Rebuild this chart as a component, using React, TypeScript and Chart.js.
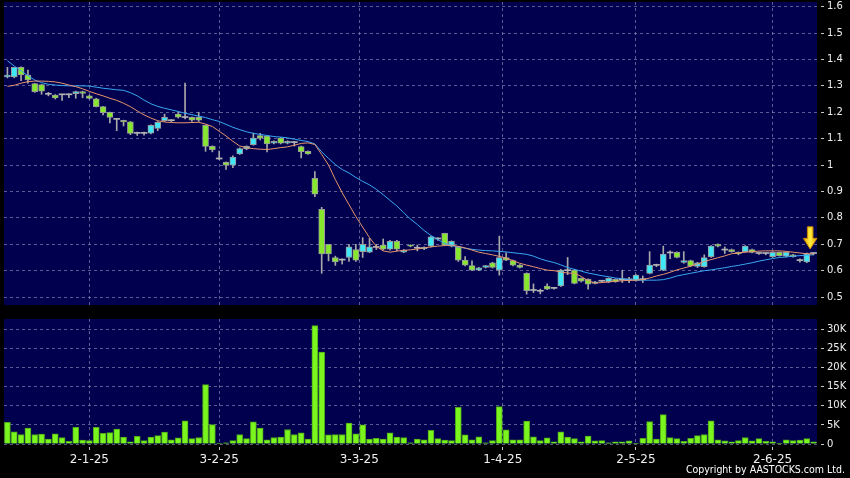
import React, { useEffect, useRef } from 'react';
import { Chart, registerables } from 'chart.js';

Chart.register(...registerables);

// ---- data (trading-day index 0..118) ----
const openP = [
  1.334, 1.334, 1.37, 1.341, 1.309, 1.305, 1.268, 1.265, 1.266, 1.266,
  1.27, 1.278, 1.262, 1.251, 1.221, 1.2, 1.173, 1.169, 1.164, 1.12,
  1.12, 1.121, 1.139, 1.168, 1.168, 1.193, 1.18, 1.181, 1.181, 1.15,
  1.071, 1.023, 1.01, 1.0, 1.042, 1.061, 1.077, 1.112, 1.11, 1.083,
  1.102, 1.083, 1.085, 1.07, 1.052, 0.95, 0.832, 0.7, 0.65, 0.64,
  0.65, 0.68, 0.672, 0.67, 0.688, 0.697, 0.681, 0.711, 0.67, 0.697,
  0.685, 0.683, 0.693, 0.72, 0.741, 0.693, 0.69, 0.64, 0.619, 0.602,
  0.612, 0.63, 0.602, 0.65, 0.638, 0.621, 0.59, 0.525, 0.522, 0.542,
  0.533, 0.542, 0.6, 0.602, 0.571, 0.567, 0.552, 0.56, 0.558, 0.567,
  0.565, 0.565, 0.563, 0.566, 0.59, 0.62, 0.602, 0.667, 0.669, 0.631,
  0.638, 0.616, 0.615, 0.653, 0.7, 0.678, 0.68, 0.669, 0.672, 0.68,
  0.665, 0.665, 0.653, 0.669, 0.655, 0.66, 0.638, 0.633, 0.665,
];
const highP = [
  1.37, 1.37, 1.372, 1.36, 1.31, 1.306, 1.275, 1.267, 1.268, 1.27,
  1.28, 1.28, 1.265, 1.253, 1.222, 1.201, 1.175, 1.17, 1.165, 1.125,
  1.125, 1.152, 1.165, 1.193, 1.172, 1.2, 1.31, 1.183, 1.2, 1.152,
  1.073, 1.053, 1.012, 1.035, 1.065, 1.073, 1.121, 1.12, 1.112, 1.092,
  1.104, 1.092, 1.09, 1.072, 1.054, 0.975, 0.84, 0.7, 0.655, 0.645,
  0.7, 0.7, 0.725, 0.722, 0.7, 0.72, 0.715, 0.715, 0.68, 0.698,
  0.697, 0.69, 0.73, 0.725, 0.742, 0.713, 0.692, 0.653, 0.637, 0.613,
  0.62, 0.632, 0.731, 0.668, 0.64, 0.623, 0.592, 0.55, 0.53, 0.55,
  0.535, 0.605, 0.65, 0.605, 0.573, 0.569, 0.56, 0.563, 0.573, 0.569,
  0.602, 0.575, 0.585, 0.58, 0.672, 0.625, 0.693, 0.675, 0.671, 0.672,
  0.64, 0.632, 0.66, 0.695, 0.702, 0.69, 0.682, 0.671, 0.695, 0.682,
  0.668, 0.667, 0.672, 0.671, 0.671, 0.662, 0.645, 0.667, 0.667,
];
const lowP = [
  1.33, 1.33, 1.32, 1.31, 1.275, 1.268, 1.262, 1.25, 1.245, 1.255,
  1.253, 1.255, 1.25, 1.22, 1.19, 1.16, 1.13, 1.148, 1.115, 1.112,
  1.113, 1.118, 1.13, 1.165, 1.163, 1.178, 1.175, 1.165, 1.165, 1.052,
  1.05, 1.02, 0.983, 0.99, 1.04, 1.058, 1.075, 1.095, 1.05, 1.08,
  1.08, 1.08, 1.072, 1.027, 1.04, 0.88, 0.59, 0.637, 0.62, 0.625,
  0.635, 0.635, 0.65, 0.668, 0.68, 0.678, 0.678, 0.675, 0.668, 0.69,
  0.675, 0.68, 0.69, 0.715, 0.695, 0.69, 0.635, 0.618, 0.6, 0.6,
  0.61, 0.61, 0.583, 0.638, 0.618, 0.61, 0.511, 0.517, 0.512, 0.528,
  0.53, 0.54, 0.585, 0.55, 0.557, 0.53, 0.55, 0.556, 0.555, 0.556,
  0.555, 0.555, 0.56, 0.555, 0.588, 0.615, 0.6, 0.645, 0.648, 0.628,
  0.615, 0.612, 0.613, 0.65, 0.69, 0.665, 0.67, 0.66, 0.67, 0.667,
  0.662, 0.66, 0.65, 0.655, 0.652, 0.651, 0.632, 0.63, 0.66,
];
const closeP = [
  1.341, 1.37, 1.341, 1.322, 1.278, 1.28, 1.268, 1.254, 1.266, 1.266,
  1.278, 1.271, 1.252, 1.221, 1.198, 1.18, 1.173, 1.163, 1.12, 1.12,
  1.12, 1.15, 1.162, 1.181, 1.168, 1.181, 1.18, 1.17, 1.17, 1.071,
  1.058, 1.023, 1.0, 1.03, 1.062, 1.071, 1.102, 1.102, 1.08, 1.09,
  1.083, 1.09, 1.085, 1.051, 1.042, 0.89, 0.663, 0.663, 0.633, 0.64,
  0.69, 0.64, 0.7, 0.69, 0.688, 0.681, 0.711, 0.681, 0.678, 0.693,
  0.685, 0.688, 0.728, 0.72, 0.697, 0.711, 0.64, 0.621, 0.602, 0.611,
  0.619, 0.612, 0.65, 0.64, 0.621, 0.612, 0.524, 0.525, 0.522, 0.53,
  0.533, 0.602, 0.6, 0.552, 0.56, 0.549, 0.558, 0.56, 0.571, 0.558,
  0.565, 0.565, 0.583, 0.566, 0.621, 0.62, 0.663, 0.667, 0.65, 0.638,
  0.618, 0.63, 0.65, 0.693, 0.693, 0.678, 0.672, 0.664, 0.693, 0.669,
  0.665, 0.665, 0.669, 0.657, 0.669, 0.653, 0.638, 0.665, 0.665,
];
const volume = [
  5700, 3200, 2500, 4200, 2500, 2600, 1300, 2700, 1700, 700,
  4400, 1000, 900, 4400, 2800, 3000, 3900, 1800, 600, 2000,
  900, 1800, 2200, 3100, 1100, 1600, 6100, 1400, 1700, 15600,
  5100, 200, 300, 900, 2500, 1400, 5800, 4200, 1100, 1700,
  1800, 3800, 2500, 2900, 1300, 31100, 24100, 2400, 2500, 2500,
  5500, 2700, 5000, 1300, 1500, 1300, 2900, 1800, 1700, 300,
  1300, 1100, 3600, 1400, 1000, 900, 9600, 2400, 1100, 1900,
  300, 900, 9800, 3700, 1100, 1100, 6000, 1900, 900, 1600,
  600, 3200, 1800, 1400, 600, 2100, 800, 900, 300, 600,
  600, 800, 100, 1500, 5900, 1300, 7700, 1700, 1400, 700,
  1500, 2200, 2500, 6100, 1100, 800, 600, 900, 1700, 800,
  1400, 700, 600, 100, 1100, 900, 1000, 1400, 600,
];
const ma10 = [
  1.298, 1.302, 1.31, 1.316, 1.318, 1.318, 1.317, 1.315, 1.31, 1.303,
  1.297, 1.289, 1.279, 1.27, 1.262, 1.253, 1.245, 1.234, 1.221, 1.205,
  1.19, 1.178, 1.168, 1.163, 1.161, 1.16, 1.16, 1.161, 1.162, 1.155,
  1.146, 1.128, 1.11, 1.09, 1.072, 1.066, 1.062, 1.06, 1.059, 1.062,
  1.066, 1.069, 1.075, 1.082, 1.084, 1.078, 1.04, 1.0, 0.945, 0.895,
  0.85, 0.805, 0.765, 0.725, 0.692, 0.675, 0.67, 0.674, 0.677, 0.679,
  0.682, 0.686, 0.69, 0.693, 0.695, 0.697, 0.692, 0.686, 0.678, 0.67,
  0.665, 0.66, 0.654, 0.648, 0.638, 0.628, 0.621, 0.615, 0.608, 0.602,
  0.6, 0.595, 0.591, 0.59, 0.578, 0.562, 0.553, 0.555, 0.557, 0.56,
  0.562, 0.563, 0.564, 0.566, 0.572, 0.58, 0.586, 0.594, 0.603, 0.61,
  0.617, 0.625, 0.635, 0.642, 0.649, 0.656, 0.664, 0.667, 0.67, 0.672,
  0.674, 0.675, 0.675, 0.675, 0.673, 0.67, 0.667, 0.664, 0.663,
];
const ma20 = [
  1.395, 1.375, 1.357, 1.338, 1.322, 1.312, 1.306, 1.303, 1.301, 1.3,
  1.3, 1.3, 1.299, 1.295, 1.291, 1.288, 1.285, 1.283, 1.274, 1.262,
  1.246, 1.232, 1.222, 1.215, 1.209, 1.203, 1.196, 1.191, 1.185, 1.18,
  1.172, 1.165, 1.154, 1.143, 1.134, 1.126, 1.12, 1.116, 1.112, 1.108,
  1.106, 1.103, 1.098, 1.093, 1.089, 1.08, 1.05, 1.025, 1.002, 0.983,
  0.97, 0.953, 0.938, 0.925, 0.908, 0.888, 0.866, 0.845, 0.82, 0.795,
  0.775, 0.752, 0.733, 0.718, 0.703, 0.695, 0.69, 0.685, 0.681, 0.678,
  0.676, 0.675, 0.673, 0.671, 0.668, 0.665, 0.662, 0.655, 0.645, 0.637,
  0.631, 0.622, 0.612, 0.605, 0.598, 0.591, 0.586, 0.581, 0.577, 0.572,
  0.57, 0.566, 0.564, 0.564, 0.564, 0.564, 0.566, 0.572, 0.58, 0.585,
  0.59, 0.595, 0.6, 0.603, 0.607, 0.611, 0.616, 0.62, 0.625, 0.63,
  0.636, 0.641, 0.646, 0.65, 0.652, 0.655, 0.657, 0.659, 0.66,
];
const priceTicks = [0.5, 0.6, 0.7, 0.8, 0.9, 1.0, 1.1, 1.2, 1.3, 1.4, 1.5, 1.6];
const volumeTicks = [0, 5000, 10000, 15000, 20000, 25000, 30000];
const dateTickIndex = [12, 31, 51.5, 72.5, 92, 112];
const dateTickLabels = ['2-1-25', '3-2-25', '3-3-25', '1-4-25', '2-5-25', '2-6-25'];
const arrowIndex = 117.5;
const arrowTop = 0.766;
const arrowTip = 0.682;

// ---- styles ----
const PANEL = '#00004f';
const GRID = 'rgba(150,150,195,0.6)';
const UP = '#3ee6f6';
const DOWN = '#86e82e';
const DOJI = '#b4b4b4';
const CANDLE_EDGE = '#9a9a9a';
const VOL = '#7af51e';
const VOL_EDGE = '#4fa818';
const TEXT = '#f0f0f0';

const n = closeP.length;

const bgPlugin = {
  id: 'panelBg',
  beforeDraw(chart: any) {
    const { ctx, chartArea: a } = chart;
    ctx.save();
    ctx.fillStyle = '#000000';
    ctx.fillRect(0, 0, chart.width, chart.height);
    ctx.fillStyle = PANEL;
    ctx.fillRect(a.left, a.top, a.right - a.left, a.bottom - a.top);
    ctx.restore();
  },
};

const arrowPlugin = {
  id: 'arrowMark',
  afterDatasetsDraw(chart: any) {
    const xs = chart.scales.x;
    const ys = chart.scales.y;
    const cx = xs.getPixelForValue(arrowIndex);
    const yt = ys.getPixelForValue(arrowTop);
    const yb = ys.getPixelForValue(arrowTip);
    const headH = (yb - yt) * 0.48;
    const ctx = chart.ctx;
    ctx.save();
    const g = ctx.createLinearGradient(cx - 7, 0, cx + 7, 0);
    g.addColorStop(0, '#e8a000');
    g.addColorStop(0.5, '#ffee40');
    g.addColorStop(1, '#e8a000');
    ctx.fillStyle = g;
    ctx.strokeStyle = '#c88a00';
    ctx.lineWidth = 1;
    ctx.beginPath();
    ctx.moveTo(cx - 2.8, yt);
    ctx.lineTo(cx + 2.8, yt);
    ctx.lineTo(cx + 2.8, yb - headH);
    ctx.lineTo(cx + 6.8, yb - headH);
    ctx.lineTo(cx, yb);
    ctx.lineTo(cx - 6.8, yb - headH);
    ctx.lineTo(cx - 2.8, yb - headH);
    ctx.closePath();
    ctx.fill();
    ctx.stroke();
    ctx.restore();
  },
};

const xScaleBase = (showLabels: boolean, height: number) => ({
  type: 'linear' as const,
  min: -0.5,
  max: n - 0.5,
  offset: false,
  afterBuildTicks: (s: any) => {
    s.ticks = dateTickIndex.map((v) => ({ value: v }));
  },
  afterFit: (s: any) => {
    s.height = height;
    s.paddingLeft = 0;
    s.paddingRight = 0;
  },
  ticks: {
    display: showLabels,
    autoSkip: false,
    maxRotation: 0,
    padding: 3,
    color: TEXT,
    font: { family: 'DejaVu Sans', size: 12 },
    callback: (v: any) => {
      const k = dateTickIndex.indexOf(Number(v));
      return k >= 0 ? dateTickLabels[k] : '';
    },
  },
  grid: {
    offset: false,
    color: GRID,
    lineWidth: 1,
    drawTicks: showLabels,
    tickLength: 6,
    tickColor: '#c8c8c8',
    tickBorderDash: [0, 3, 3, 0],
  },
  border: { display: false, dash: [3, 3] },
});

const yScaleBase = (min: number, max: number, ticks: number[], fmt: (v: number) => string) => ({
  type: 'linear' as const,
  position: 'right' as const,
  min,
  max,
  afterBuildTicks: (s: any) => {
    s.ticks = ticks.map((v) => ({ value: v }));
  },
  afterFit: (s: any) => {
    s.width = 33;
    s.paddingTop = 0;
    s.paddingBottom = 0;
  },
  ticks: {
    color: TEXT,
    padding: 3,
    font: { family: 'DejaVu Sans', size: 10 },
    callback: (v: any) => fmt(Number(v)),
  },
  grid: {
    color: GRID,
    drawTicks: true,
    tickLength: 7,
    tickColor: '#c8c8c8',
    tickBorderDash: [0, 4, 3, 0],
  },
  border: { display: false, dash: [3, 3] },
});

export default function App() {
  const priceRef = useRef<HTMLCanvasElement | null>(null);
  const volRef = useRef<HTMLCanvasElement | null>(null);

  useEffect(() => {
    const idx = closeP.map((_, i) => i);
    const bodyColor = idx.map((i) =>
      closeP[i] > openP[i] ? UP : closeP[i] < openP[i] ? DOWN : DOJI
    );
    const bodyBorder = idx.map((i) => (closeP[i] === openP[i] ? 0 : 1));

    const price = new Chart(priceRef.current as HTMLCanvasElement, {
      type: 'bar',
      data: {
        datasets: [
          {
            type: 'line',
            label: 'MA10',
            data: ma10.map((v, i) => ({ x: i, y: v })),
            borderColor: '#e8956a',
            borderWidth: 1,
            pointRadius: 0,
            order: 0,
          } as any,
          {
            type: 'line',
            label: 'MA20',
            data: ma20.map((v, i) => ({ x: i, y: v })),
            borderColor: '#3aa8f0',
            borderWidth: 1,
            pointRadius: 0,
            order: 0,
          } as any,
          {
            type: 'bar',
            label: 'body',
            data: idx.map((i) => ({
              x: i,
              y: [Math.min(openP[i], closeP[i]), Math.max(openP[i], closeP[i])],
            })),
            backgroundColor: bodyColor,
            borderColor: CANDLE_EDGE,
            borderWidth: bodyBorder,
            borderSkipped: false,
            barThickness: 6,
            minBarLength: 1,
            grouped: false,
            order: 1,
          } as any,
          {
            type: 'bar',
            label: 'wick',
            data: idx.map((i) => ({ x: i, y: [lowP[i], highP[i]] })),
            backgroundColor: '#a8a8a8',
            borderWidth: 0,
            barThickness: 1,
            minBarLength: 1,
            grouped: false,
            order: 2,
          } as any,
        ],
      },
      options: {
        responsive: false,
        animation: false,
        events: [],
        layout: { padding: { left: 4, top: 2, right: 0, bottom: 0 } },
        plugins: { legend: { display: false }, tooltip: { enabled: false } },
        scales: {
          x: xScaleBase(false, 7) as any,
          y: yScaleBase(0.47, 1.6175, priceTicks, (v) => String(Math.round(v * 10) / 10)) as any,
        },
      },
      plugins: [bgPlugin, arrowPlugin],
    });

    const vol = new Chart(volRef.current as HTMLCanvasElement, {
      type: 'bar',
      data: {
        datasets: [
          {
            label: 'Volume',
            data: volume.map((v, i) => ({ x: i, y: v })),
            backgroundColor: VOL,
            borderColor: VOL_EDGE,
            borderWidth: 1,
            borderSkipped: 'start',
            barThickness: 6,
            grouped: false,
          } as any,
        ],
      },
      options: {
        responsive: false,
        animation: false,
        events: [],
        layout: { padding: { left: 4, top: 7, right: 0, bottom: 0 } },
        plugins: { legend: { display: false }, tooltip: { enabled: false } },
        scales: {
          x: xScaleBase(true, 34) as any,
          y: yScaleBase(0, 32800, volumeTicks, (v) => (v === 0 ? '0' : v / 1000 + 'K')) as any,
        },
      },
      plugins: [bgPlugin],
    });

    return () => {
      price.destroy();
      vol.destroy();
    };
  }, []);

  return (
    <div
      style={{
        position: 'fixed',
        left: 0,
        top: 0,
        width: 850,
        height: 478,
        background: '#000',
        overflow: 'hidden',
      }}
    >
      <canvas
        ref={priceRef}
        width={850}
        height={312}
        style={{ position: 'absolute', left: 0, top: 0, width: 850, height: 312 }}
      />
      <canvas
        ref={volRef}
        width={850}
        height={166}
        style={{ position: 'absolute', left: 0, top: 312, width: 850, height: 166 }}
      />
      <div
        style={{
          position: 'absolute',
          right: 5,
          top: 463,
          color: '#ffffff',
          fontFamily: "'DejaVu Sans Condensed', 'DejaVu Sans', sans-serif",
          fontSize: 10.5,
          lineHeight: '13px',
          whiteSpace: 'nowrap',
        }}
      >
        Copyright by AASTOCKS.com Ltd.
      </div>
    </div>
  );
}
